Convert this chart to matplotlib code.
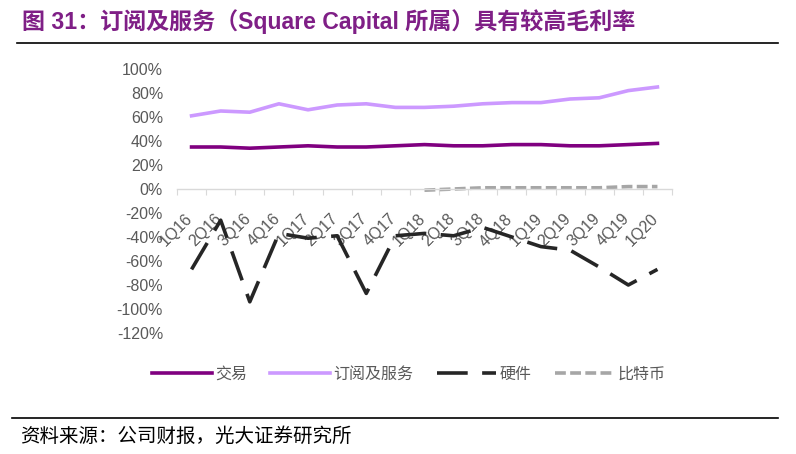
import numpy as np
import matplotlib
matplotlib.use('Agg')
from matplotlib import pyplot as plt
from matplotlib.lines import Line2D
from matplotlib.ticker import FuncFormatter
from matplotlib.transforms import ScaledTranslation

plt.rcParams['font.family'] = ['Liberation Sans', 'Noto Sans CJK SC', 'DejaVu Sans']

quarters = ['1Q16', '2Q16', '3Q16', '4Q16', '1Q17', '2Q17', '3Q17', '4Q17', '1Q18',
            '2Q18', '3Q18', '4Q18', '1Q19', '2Q19', '3Q19', '4Q19', '1Q20']

# 毛利率 (%)
jiaoyi = [35, 35, 34, 35, 36, 35, 35, 36, 37, 36, 36, 37, 37, 36, 36, 37, 38]
dingyue = [61, 65, 64, 71, 66, 70, 71, 68, 68, 69, 71, 72, 72, 75, 76, 82, 85]
yingjian = [-67, -26, -94, -37, -41, -39, -87, -39, -37, -39, -32, -40, -48, -51, -65, -80, -67]
bitebi_q = ['1Q18', '2Q18', '3Q18', '4Q18', '1Q19', '2Q19', '3Q19', '4Q19', '1Q20']
bitebi = [-1, 0, 1, 1, 1, 1, 1, 2, 2]

x = np.arange(len(quarters))
xb = np.array([quarters.index(q) for q in bitebi_q])

W, H = 796, 454
fig = plt.figure(figsize=(W / 100, H / 100), dpi=100)
ax = fig.add_axes([177 / W, 1 - 333 / H, (672 - 177) / W, (333 - 69) / H])

lw = 2.6
ax.plot(x, np.array(jiaoyi) / 100, color='#800080', lw=lw, label='交易')
ax.plot(x, np.array(dingyue) / 100, color='#CC99FF', lw=lw, label='订阅及服务')
ax.plot(x, np.array(yingjian) / 100, color='#262626', lw=lw, linestyle=(0, (8.5, 4)), label='硬件')
ax.plot(xb, np.array(bitebi) / 100, color='#A6A6A6', lw=lw, linestyle=(0, (3, 1.2)), label='比特币')

ax.set_xlim(-0.5, len(quarters) - 0.5)
ax.set_ylim(-1.2, 1.0)
ax.set_yticks(np.arange(-1.2, 1.01, 0.2))
ax.yaxis.set_major_formatter(FuncFormatter(lambda v, p: '{:.0f}%'.format(round(v * 100))))

for s in ['top', 'right', 'left']:
    ax.spines[s].set_visible(False)
ax.spines['bottom'].set_position(('data', 0))
ax.spines['bottom'].set_color('#D9D9D9')
ax.spines['bottom'].set_linewidth(1)

ax.set_xticks(np.arange(-0.5, len(quarters), 1.0))
ax.set_xticklabels([])
ax.set_xticks(x, minor=True)
ax.set_xticklabels(quarters, minor=True, rotation=45, ha='right', va='top')
ax.tick_params(axis='x', which='major', length=4, color='#D9D9D9', direction='out')
ax.tick_params(axis='x', which='minor', length=0, pad=16, labelsize=11.5, labelcolor='#595959')
ax.tick_params(axis='y', length=0, pad=10, labelsize=11.5, labelcolor='#595959')
shift = ScaledTranslation(4 / 100, 0, fig.dpi_scale_trans)
for lab in ax.get_xticklabels(minor=True):
    lab.set_transform(lab.get_transform() + shift)

fig.legend(loc='center', bbox_to_anchor=(409 / W, 1 - 374 / H), ncol=4, frameon=False,
           handlelength=3.75, handletextpad=0.2, columnspacing=1.45, fontsize=11.5,
           labelcolor='#595959')

fig.text(22 / W, 1 - 22 / H, '图 31：订阅及服务（Square Capital 所属）具有较高毛利率',
         fontsize=16.6, fontweight='bold', color='#7F1F86', va='center', ha='left')
fig.add_artist(Line2D([17 / W, 778 / W], [1 - 43 / H, 1 - 43 / H], color='black', lw=1.2))
fig.add_artist(Line2D([12 / W, 778 / W], [1 - 418 / H, 1 - 418 / H], color='black', lw=1.2))
fig.text(20 / W, 1 - 437 / H, '资料来源：公司财报，光大证券研究所', fontsize=14,
         color='black', va='center', ha='left')

fig.savefig('out.png', dpi=100)
